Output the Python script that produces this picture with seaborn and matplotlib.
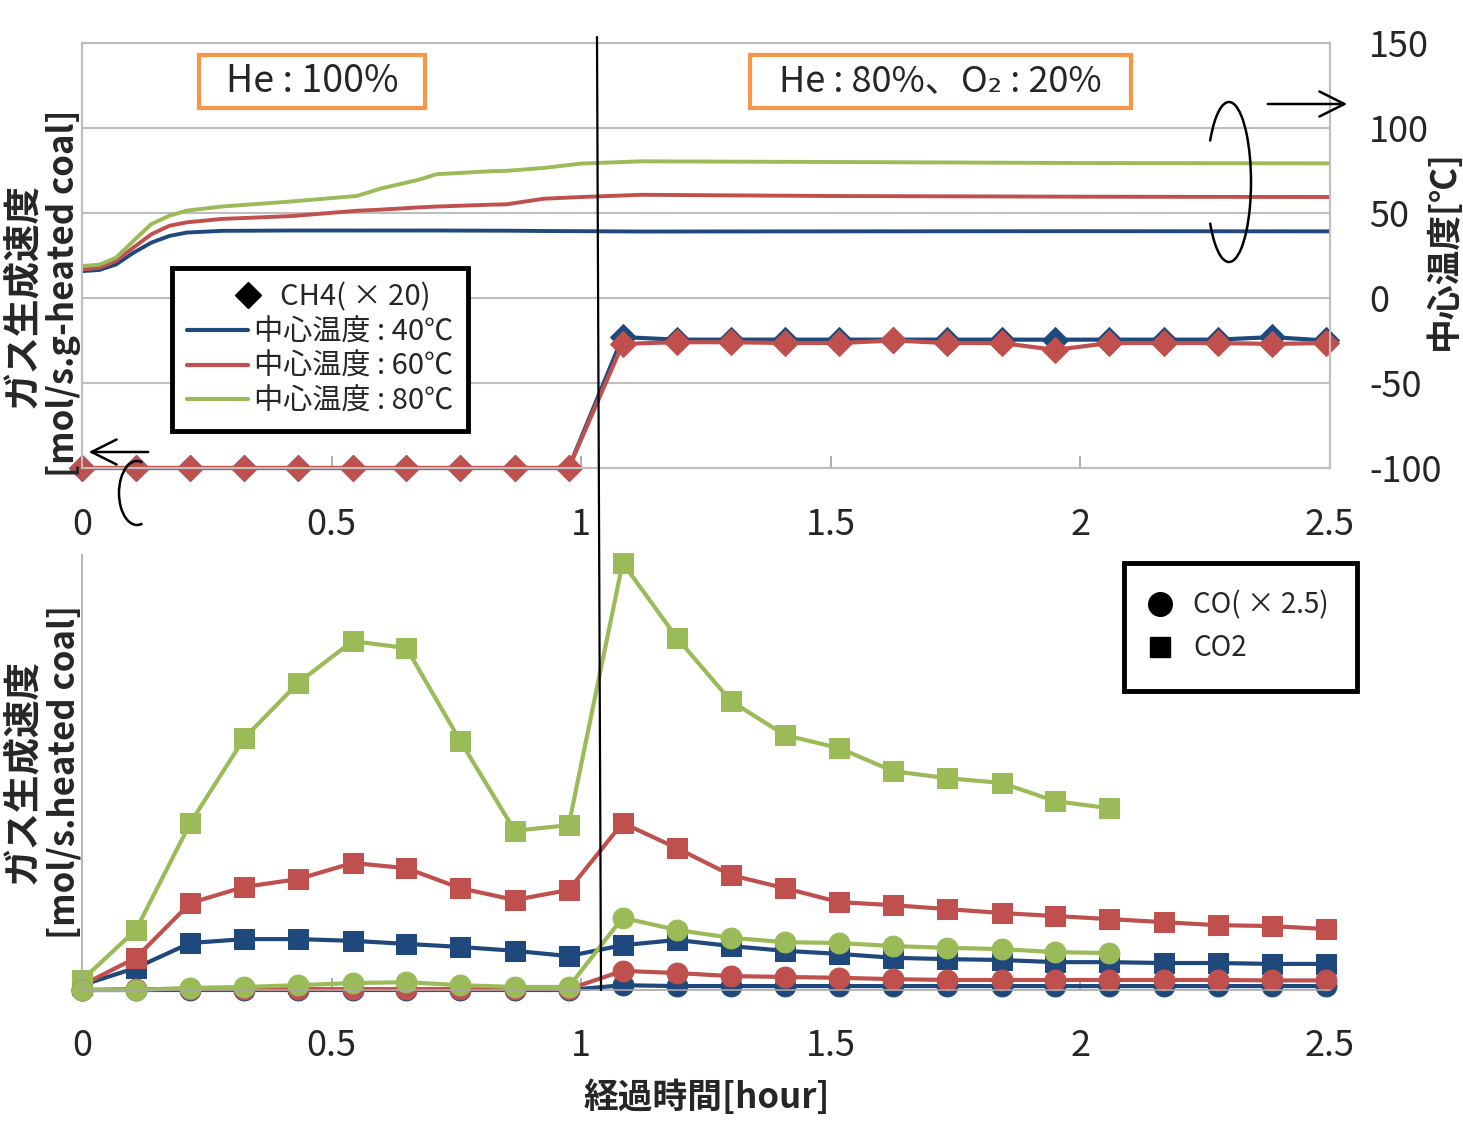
import matplotlib
matplotlib.use('Agg')
import matplotlib.pyplot as plt
import matplotlib.transforms as mtransforms
from matplotlib.lines import Line2D
from matplotlib.patches import Arc, Rectangle, FancyArrowPatch
import seaborn as sns

sns.set_theme(style='white')
plt.rcParams['font.family'] = ['Noto Sans CJK JP', 'DejaVu Sans']

# ---------------- data ----------------
# sampling times [hour]
t_samp = [0, 0.108, 0.217, 0.325, 0.433, 0.542, 0.650, 0.758, 0.867, 0.975,
          1.083, 1.192, 1.300, 1.408, 1.517, 1.625, 1.733, 1.842, 1.950, 2.058,
          2.167, 2.275, 2.383, 2.492]

# CH4 (x20), left axis (arbitrary units)
ch4_40 = [0, 0, 0, 0, 0, 0, 0, 0, 0, 0,
          1.54, 1.51, 1.51, 1.51, 1.51, 1.51, 1.51, 1.51, 1.51, 1.51,
          1.51, 1.51, 1.54, 1.50]
ch4_60 = [0, 0, 0, 0, 0, 0, 0, 0, 0, 0,
          1.46, 1.48, 1.48, 1.47, 1.47, 1.50, 1.47, 1.47, 1.39, 1.47,
          1.47, 1.47, 1.46, 1.47]

# centre temperature [degC], right axis
temp_t = [0, 0.035, 0.068, 0.103, 0.139, 0.175, 0.21, 0.28, 0.42, 0.55, 0.60,
          0.675, 0.71, 0.82, 0.85, 0.925, 1.0, 1.12, 1.5, 2.0, 2.5]
temp_40 = [15.8, 16.5, 19.7, 26.6, 32.6, 36.5, 38.5, 39.5, 39.7, 39.7, 39.7,
           39.7, 39.7, 39.6, 39.6, 39.4, 39.3, 39.1, 39.2, 39.3, 39.2]
temp_60 = [16.8, 17.8, 21.8, 29.7, 37.5, 42.5, 44.5, 46.5, 48.2, 51.3, 52.0,
           53.3, 53.8, 54.9, 55.1, 58.4, 59.4, 60.7, 60.0, 59.6, 59.4]
temp_80 = [18.8, 19.6, 23.7, 33.6, 43.5, 48.4, 51.4, 53.8, 56.8, 60.0, 64.5,
           69.6, 72.8, 74.6, 74.8, 76.5, 79.1, 80.4, 80.0, 79.4, 79.2]

# CO2 generation rate (arbitrary units)
co2_40 = [0.11, 0.51, 1.08, 1.17, 1.17, 1.13, 1.06, 0.99, 0.90, 0.78,
          1.03, 1.15, 1.01, 0.90, 0.83, 0.74, 0.71, 0.69, 0.64, 0.64,
          0.62, 0.62, 0.60, 0.60]
co2_60 = [0.11, 0.74, 2.00, 2.37, 2.55, 2.92, 2.80, 2.34, 2.07, 2.30,
          3.84, 3.26, 2.64, 2.34, 2.02, 1.95, 1.86, 1.77, 1.70, 1.63,
          1.56, 1.49, 1.47, 1.40]
co2_80 = [0.23, 1.38, 3.84, 5.79, 7.06, 8.02, 7.86, 5.72, 3.66, 3.79,
          9.82, 8.09, 6.64, 5.86, 5.56, 5.03, 4.87, 4.76, 4.34, 4.18]

# CO (x2.5) generation rate (arbitrary units)
co_40 = [0, 0, 0, 0, 0, 0, 0, 0, 0, 0,
         0.11, 0.09, 0.09, 0.09, 0.09, 0.09, 0.09, 0.09, 0.09, 0.09,
         0.09, 0.09, 0.09, 0.09]
co_60 = [0, 0.02, 0.02, 0.02, 0.02, 0.02, 0.02, 0.02, 0.02, 0.02,
         0.44, 0.39, 0.32, 0.30, 0.28, 0.25, 0.23, 0.23, 0.23, 0.23,
         0.23, 0.23, 0.22, 0.22]
co_80 = [0, 0, 0.05, 0.07, 0.11, 0.16, 0.18, 0.11, 0.07, 0.07,
         1.66, 1.38, 1.20, 1.10, 1.08, 1.01, 0.97, 0.94, 0.87, 0.85]

x_ticks = [0, 0.5, 1, 1.5, 2, 2.5]
x_tick_labels = ['0', '0.5', '1', '1.5', '2', '2.5']
temp_ticks = [-100, -50, 0, 50, 100, 150]
temp_tick_labels = ['-100', '-50', '0', '50', '100', '150']

BLUE = '#1F497D'
RED = '#C0504D'
GREEN = '#9BBB59'
ORANGE = '#F79646'
GRID = '#BEBEBE'

W, H = 1463, 1125
fig = plt.figure(figsize=(W / 100, H / 100), dpi=100)
pix = mtransforms.Affine2D().scale(1 / W, -1 / H).translate(0, 1) + fig.transFigure


def px_axes(x0, y0, x1, y1):
    return fig.add_axes([x0 / W, 1 - y1 / H, (x1 - x0) / W, (y1 - y0) / H])


TICK_FS = 26

# ---------------- top panel ----------------
ax1 = px_axes(82, 43, 1330, 468)
ax1.set_xlim(0, 2.5)
ax1.set_ylim(0, 5)
ax1.set_yticks([0, 1, 2, 3, 4, 5])
ax1.set_yticklabels([])
ax1.tick_params(axis='y', length=0)
ax1.grid(axis='y', color=GRID, linewidth=1.5)
ax1.grid(axis='x', visible=False)
ax1.set_axisbelow(True)
ax1.set_xticks(x_ticks)
ax1.set_xticklabels(x_tick_labels, fontsize=TICK_FS)
ax1.tick_params(axis='x', direction='in', length=9, width=1.2, color='#A0A0A0',
                pad=28, bottom=True)
for s in ax1.spines.values():
    s.set_color(GRID)
    s.set_linewidth(1.5)

sns.lineplot(x=t_samp, y=ch4_40, ax=ax1, color=BLUE, linewidth=3, marker='D',
             markersize=13, markeredgecolor=BLUE, clip_on=False, zorder=3)
sns.lineplot(x=t_samp, y=ch4_60, ax=ax1, color=RED, linewidth=3, marker='D',
             markersize=13, markeredgecolor=RED, clip_on=False, zorder=4)

ax2 = ax1.twinx()
ax2.set_ylim(-100, 150)
ax2.set_yticks(temp_ticks)
ax2.set_yticklabels(temp_tick_labels, fontsize=TICK_FS)
ax2.tick_params(axis='y', length=0, pad=28, right=True, labelright=True)
ax2.grid(False)
for s in ax2.spines.values():
    s.set_color(GRID)
    s.set_linewidth(1.5)

sns.lineplot(x=temp_t, y=temp_40, ax=ax2, color=BLUE, linewidth=2.8)
sns.lineplot(x=temp_t, y=temp_60, ax=ax2, color=RED, linewidth=2.8)
sns.lineplot(x=temp_t, y=temp_80, ax=ax2, color=GREEN, linewidth=2.8)
ax2.set_ylabel('')
ax2.set_xlim(0, 2.5)

# ---------------- bottom panel ----------------
ax3 = px_axes(82, 555, 1330, 990)
ax3.set_xlim(0, 2.5)
ax3.set_ylim(0, 10)
ax3.set_yticks([])
ax3.grid(False)
ax3.set_xticks(x_ticks)
ax3.set_xticklabels(x_tick_labels, fontsize=TICK_FS)
ax3.tick_params(axis='x', direction='in', length=9, width=1.2, color='#A0A0A0',
                pad=27, bottom=True)
for name, s in ax3.spines.items():
    s.set_color('#A8A8A8')
    s.set_linewidth(1.2)
    if name in ('top', 'right'):
        s.set_visible(False)

for vals, col in [(co2_40, BLUE), (co2_60, RED), (co2_80, GREEN)]:
    sns.lineplot(x=t_samp[:len(vals)], y=vals, ax=ax3, color=col, linewidth=3,
                 marker='s', markersize=14, markeredgecolor=col, clip_on=False)
for vals, col in [(co_40, BLUE), (co_60, RED), (co_80, GREEN)]:
    sns.lineplot(x=t_samp[:len(vals)], y=vals, ax=ax3, color=col, linewidth=3,
                 marker='o', markersize=15, markeredgecolor=col, clip_on=False)

# ---------------- phase boundary line ----------------
fig.add_artist(Line2D([597, 601], [37, 990], transform=pix, color='black',
                      linewidth=1.6, zorder=10))

# ---------------- condition boxes ----------------
for (x0, y0, x1, y1), txt, fs in [((199, 55, 425, 108), 'He : 100%', 27),
                                  ((750, 55, 1131, 108), 'He : 80%、O₂ : 20%', 26)]:
    fig.add_artist(Rectangle((x0, y1), x1 - x0, -(y1 - y0), transform=pix,
                             facecolor='white', edgecolor=ORANGE, linewidth=3,
                             zorder=11))
    fig.text((x0 + x1) / 2 / W, 1 - (y0 + y1) / 2 / H, txt, fontsize=fs,
             ha='center', va='center', zorder=12)

# ---------------- legends ----------------
h_top = [Line2D([], [], color='black', marker='D', markersize=13, linestyle='none'),
         Line2D([], [], color=BLUE, linewidth=3),
         Line2D([], [], color=RED, linewidth=3),
         Line2D([], [], color=GREEN, linewidth=3)]
l_top = ['    CH4( × 20)', '中心温度 : 40℃', '中心温度 : 60℃', '中心温度 : 80℃']
leg1 = fig.legend(h_top, l_top, loc='upper left',
                  bbox_to_anchor=(172 / W, 1 - 268 / H), fontsize=21,
                  frameon=True, fancybox=False, framealpha=1, edgecolor='black',
                  handlelength=2.1, handletextpad=0.2, borderpad=0.5,
                  labelspacing=0.16, borderaxespad=0)
leg1.get_frame().set_linewidth(3.5)
leg1.legend_handles[0].set_markevery([2])

h_bot = [Line2D([], [], color='black', marker='o', markersize=17, linestyle='none'),
         Line2D([], [], color='black', marker='s', markersize=14, linestyle='none')]
l_bot = ['CO( × 2.5)', 'CO2']
leg2 = fig.legend(h_bot, l_bot, loc='upper left',
                  bbox_to_anchor=(1124 / W, 1 - 563 / H), fontsize=20,
                  frameon=True, fancybox=False, framealpha=1, edgecolor='black',
                  handlelength=0.6, handletextpad=0.9, borderpad=1.0,
                  labelspacing=0.45, borderaxespad=0)
leg2.get_frame().set_linewidth(3.5)

# ---------------- axis titles ----------------
fig.text(21 / W, 1 - 295 / H, 'ガス生成速度', rotation=90, fontsize=27,
         fontweight='bold', ha='center', va='center')
fig.text(64 / W, 1 - 293 / H, '[mol/s.g-heated coal]', rotation=90, fontsize=25,
         fontweight='bold', ha='center', va='center')
fig.text(21 / W, 1 - 772 / H, 'ガス生成速度', rotation=90, fontsize=27,
         fontweight='bold', ha='center', va='center')
fig.text(64 / W, 1 - 772 / H, '[mol/s.heated coal]', rotation=90, fontsize=25,
         fontweight='bold', ha='center', va='center')
fig.text(1443 / W, 1 - 250 / H, '中心温度[℃]', rotation=90, fontsize=25,
         fontweight='bold', ha='center', va='center')
fig.text(707 / W, 1 - 1097 / H, '経過時間[hour]', fontsize=25,
         fontweight='bold', ha='center', va='center')

# ---------------- arrows / brackets ----------------
fig.add_artist(Arc((1229, 182), 44, 160, theta1=-115, theta2=115, transform=pix,
                   color='black', linewidth=1.8))
fig.add_artist(Arc((137, 493), 36, 64, theta1=80, theta2=280, transform=pix,
                   color='black', linewidth=1.8))
fig.add_artist(FancyArrowPatch(
    (1265, 104), (1350, 104), transform=pix,
    arrowstyle='->,head_length=0.9,head_width=0.45',
    mutation_scale=20, color='black', linewidth=1.8))
fig.add_artist(FancyArrowPatch(
    (151, 452), (86, 452), transform=pix,
    arrowstyle='->,head_length=0.9,head_width=0.45',
    mutation_scale=20, color='black', linewidth=1.8))

fig.savefig('out.png', dpi=100)
